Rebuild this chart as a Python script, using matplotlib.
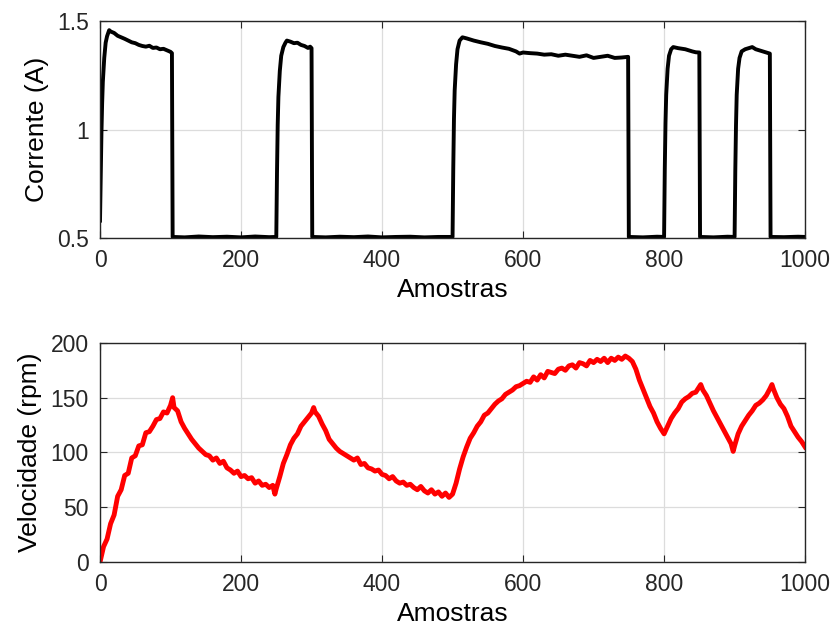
import numpy as np
import matplotlib
matplotlib.use('Agg')
import matplotlib.pyplot as plt

plt.rcParams['font.family'] = ['Liberation Sans', 'DejaVu Sans']

# corrente (A) - amostras
amostra_i = [0, 1, 2, 3, 4, 6, 8, 10, 13, 15, 20, 25, 30, 35, 40, 45, 50, 55, 60, 65, 70, 75, 80, 85, 90, 95, 100, 102,
             103, 120, 140, 160, 180, 200, 220, 240,
             250, 251, 252, 253, 255, 257, 260, 263, 265, 270, 275, 280, 285, 290, 295, 298, 300,
             301, 320, 340, 360, 380, 400, 420, 440, 460, 480,
             500, 501, 502, 503, 505, 507, 510, 514, 520, 530, 540, 550, 560, 570, 580, 590, 595, 600, 610, 620,
             630, 640, 650, 660, 670, 680, 690, 700, 710, 720, 730, 740, 749,
             750, 770, 790,
             800, 801, 802, 803, 805, 807, 810, 813, 820, 830, 840, 845, 850,
             851, 870, 890,
             900, 901, 902, 903, 905, 907, 910, 915, 920, 925, 930, 940, 945, 950,
             951, 970, 990, 1000]
corrente = [0.58, 0.78, 0.98, 1.12, 1.22, 1.33, 1.40, 1.43, 1.458, 1.452, 1.445, 1.432, 1.425, 1.418, 1.41, 1.402, 1.398,
            1.39, 1.385, 1.382, 1.386, 1.376, 1.378, 1.37, 1.372, 1.365, 1.358, 1.352,
            0.505, 0.503, 0.507, 0.504, 0.506, 0.503, 0.507, 0.504,
            0.505, 0.80, 1.02, 1.15, 1.27, 1.34, 1.38, 1.40, 1.41, 1.405, 1.398, 1.40, 1.39, 1.385, 1.376, 1.382, 1.375,
            0.505, 0.503, 0.506, 0.504, 0.507, 0.503, 0.505, 0.506, 0.503, 0.505,
            0.505, 0.82, 1.05, 1.18, 1.30, 1.37, 1.41, 1.425, 1.42, 1.41, 1.402, 1.395, 1.385, 1.378, 1.372, 1.36,
            1.35, 1.355, 1.352, 1.35, 1.345, 1.347, 1.34, 1.345, 1.34, 1.335, 1.342, 1.33, 1.335, 1.34, 1.33,
            1.332, 1.335,
            0.505, 0.503, 0.506,
            0.505, 0.82, 1.03, 1.16, 1.28, 1.34, 1.37, 1.38, 1.375, 1.37, 1.36, 1.356, 1.355,
            0.505, 0.503, 0.506,
            0.505, 0.81, 1.02, 1.16, 1.28, 1.33, 1.36, 1.37, 1.375, 1.38, 1.37, 1.36, 1.355, 1.35,
            0.505, 0.504, 0.506, 0.505]

# velocidade (rpm) a cada 5 amostras
amostra_v = [0, 5, 10, 15, 20, 25, 30, 35, 40, 45, 50, 55, 60, 65, 70, 75, 80, 85, 90, 95, 100, 103, 105,
             110, 115, 120, 125, 130, 135, 140, 145, 150, 155, 160, 165, 170, 175, 180, 185, 190, 195, 200,
             205, 210, 215, 220, 225, 230, 235, 240, 245, 248, 250,
             255, 260, 265, 270, 275, 280, 285, 290, 295, 300, 303, 305,
             310, 315, 320, 325, 330, 335, 340, 345, 350, 355, 360, 365, 370, 375, 380, 385, 390, 395, 400,
             405, 410, 415, 420, 425, 430, 435, 440, 445, 450, 455, 460, 465, 470, 475, 480, 485, 490, 495, 500,
             505, 510, 515, 520, 525, 530, 535, 540, 545, 550, 555, 560, 565, 570, 575, 580, 585, 590, 595, 600,
             605, 610, 615, 620, 625, 630, 635, 640, 645, 650, 655, 660, 665, 670, 675, 680, 685, 690, 695, 700,
             705, 710, 715, 720, 725, 730, 735, 740, 745, 750, 755,
             760, 765, 770, 775, 780, 785, 790, 795, 800,
             805, 810, 815, 820, 825, 830, 835, 840, 845, 850, 852,
             855, 860, 865, 870, 875, 880, 885, 890, 895, 898, 900,
             905, 910, 915, 920, 925, 930, 935, 940, 945, 950, 953,
             955, 960, 965, 970, 975, 980, 985, 990, 995, 1000]
velocidade = [0, 14, 21, 35, 43, 60, 66, 79, 81, 95, 97, 106, 107, 118, 119, 124, 130, 131, 137, 136, 143, 150, 141,
              138, 128, 122, 117, 112, 108, 104, 101, 98, 97, 93, 95, 90, 92, 86, 84, 81, 83, 78,
              79, 76, 77, 72, 74, 70, 71, 68, 70, 62, 67,
              78, 90, 98, 107, 113, 117, 124, 128, 132, 136, 141, 137,
              133, 126, 120, 112, 108, 104, 101, 99, 97, 95, 93, 95, 89, 90, 86, 85, 83, 84, 80,
              79, 76, 78, 74, 72, 73, 70, 71, 68, 66, 69, 65, 63, 66, 62, 64, 60, 63, 59, 62,
              72, 85, 96, 105, 113, 118, 124, 128, 134, 136, 140, 144, 147, 149, 153, 155, 157, 160, 161, 163,
              165, 164, 169, 166, 171, 168, 174, 173, 172, 176, 177, 175, 179, 180, 177, 182, 181, 179, 184, 182,
              185, 183, 186, 182, 186, 184, 187, 185, 188, 186, 183,
              176, 166, 158, 150, 142, 136, 128, 122, 117,
              124, 131, 136, 140, 146, 149, 151, 154, 155, 160, 162,
              157, 152, 145, 138, 132, 126, 120, 114, 108, 101, 106,
              117, 124, 129, 134, 138, 143, 145, 148, 152, 158, 162,
              158, 150, 144, 140, 133, 124, 119, 114, 110, 105]

eixo_cor = '#262626'
fig = plt.figure(figsize=(8.3, 6.28), dpi=100)
ax1 = fig.add_axes([0.1205, 0.621, 0.8495, 0.3455])
ax2 = fig.add_axes([0.1205, 0.105, 0.8495, 0.349])

ax1.plot(amostra_i, corrente, color='black', lw=2.8, solid_joinstyle='round')
ax2.plot(amostra_v, velocidade, color='#ff0000', lw=3.5, solid_joinstyle='round')

ax1.set_ylim(0.5, 1.5)
ax1.set_yticks([0.5, 1, 1.5])
ax1.set_yticklabels(['0.5', '1', '1.5'])
ax1.set_ylabel('Corrente (A)', fontsize=19, labelpad=6)
ax2.set_ylim(0, 200)
ax2.set_yticks([0, 50, 100, 150, 200])
ax2.set_ylabel('Velocidade (rpm)', fontsize=19, labelpad=6)

for ax in (ax1, ax2):
    ax.set_xlim(0, 1000)
    ax.set_xticks([0, 200, 400, 600, 800, 1000])
    ax.set_xlabel('Amostras', fontsize=19, labelpad=4)
    ax.grid(True, color='#dcdcdc', lw=0.9)
    ax.set_axisbelow(True)
    ax.tick_params(direction='in', top=True, right=True, length=5, width=0.8,
                   labelsize=16.5, colors=eixo_cor, pad=8)
    for s in ax.spines.values():
        s.set_color(eixo_cor)
        s.set_linewidth(1.0)

fig.savefig('out.png', dpi=100)
